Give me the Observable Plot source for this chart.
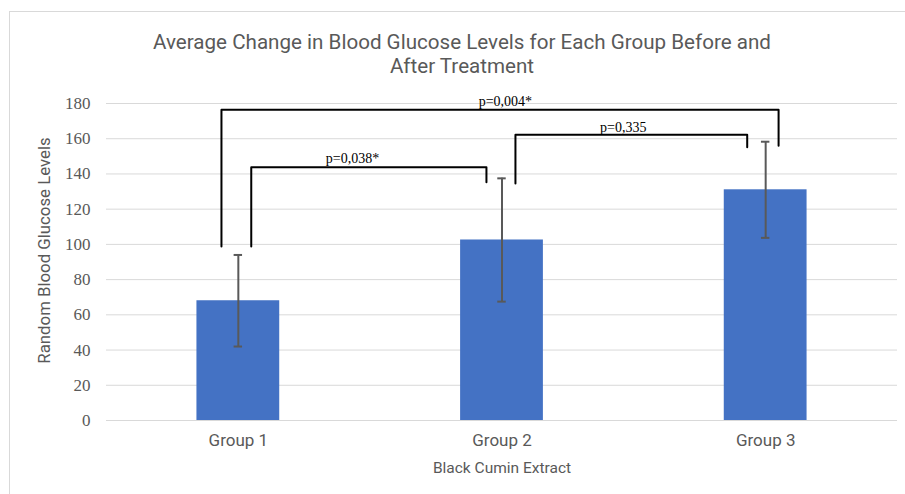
<!DOCTYPE html>
<html><head><meta charset="utf-8">
<script src="https://cdn.jsdelivr.net/npm/d3@7"></script>
<script src="https://cdn.jsdelivr.net/npm/@observablehq/plot@0.6"></script>
<style>
body{margin:0;background:#fff;width:905px;height:494px;overflow:hidden;}
#frame{position:absolute;left:9px;top:11px;width:895px;height:483px;border-left:1px solid #d9d9d9;border-top:1px solid #d9d9d9;}
#title{position:absolute;left:0;top:30px;width:924px;text-align:center;font-family:Roboto,sans-serif;font-size:20.6px;line-height:24px;color:#595959;}
#chart{position:absolute;left:0;top:85px;}
</style></head><body>
<div id="frame"></div>
<div id="title">Average Change in Blood Glucose Levels for Each Group Before and<br>After Treatment</div>
<div id="chart"></div>
<script>
// Data
const groups = ["Group 1", "Group 2", "Group 3"];
const groupPos = [1, 2, 3];
const means = [68, 102.5, 131];
const errors = [26, 35, 27.3];
const yTicks = [0, 20, 40, 60, 80, 100, 120, 140, 160, 180];

// Significance brackets (x in group units, y in glucose units)
const bracketLabels = ["p=0,004*", "p=0,038*", "p=0,335"];
const bracketLeftX = [0.936, 1.049, 2.051];
const bracketRightX = [3.049, 1.941, 2.93];
const bracketTopY = [176.5, 143.8, 162.2];
const bracketLeftBottomY = [98.8, 98.8, 134.6];
const bracketRightBottomY = [156, 135.3, 155.2];
const bracketLabelX = [2.013, 1.433, 2.46];
const bracketLabelY = [181.3, 148.8, 166.4];

const barHalf = 0.157;
const capHalf = 0.016;

const bars = groups.map((g, i) => ({g, x: groupPos[i], mean: means[i], err: errors[i]}));
const bracketPts = [];
bracketLabels.forEach((l, i) => {
  bracketPts.push({id: l, x: bracketLeftX[i], y: bracketLeftBottomY[i]});
  bracketPts.push({id: l, x: bracketLeftX[i], y: bracketTopY[i]});
  bracketPts.push({id: l, x: bracketRightX[i], y: bracketTopY[i]});
  bracketPts.push({id: l, x: bracketRightX[i], y: bracketRightBottomY[i]});
});
const bracketText = bracketLabels.map((l, i) => ({l, x: bracketLabelX[i], y: bracketLabelY[i]}));

const chart = Plot.plot({
  width: 905, height: 409,
  marginLeft: 106, marginRight: 8, marginTop: 18, marginBottom: 74,
  style: {fontFamily: "Roboto, sans-serif", fontSize: "15px", color: "#595959", background: "transparent", overflow: "visible"},
  x: {type: "linear", domain: [0.5, 3.5]},
  y: {domain: [0, 180]},
  marks: [
    Plot.gridY(yTicks, {stroke: "#d9d9d9", strokeOpacity: 1, strokeWidth: 1}),
    Plot.axisY(yTicks, {tickSize: 0, tickPadding: 16, fontFamily: "Liberation Serif, serif", fontSize: 17, fill: "#595959", label: null}),
    Plot.axisX(groupPos, {tickSize: 0, tickPadding: 13, tickFormat: i => groups[i - 1], fontSize: 17, fill: "#595959", label: null}),
    Plot.rectY(bars, {x1: d => d.x - barHalf, x2: d => d.x + barHalf, y1: 0, y2: "mean", fill: "#4472C4"}),
    Plot.ruleX(bars, {x: "x", y1: d => d.mean - d.err, y2: d => d.mean + d.err, stroke: "#595959", strokeWidth: 2}),
    Plot.ruleY(bars, {y: d => d.mean + d.err, x1: d => d.x - capHalf, x2: d => d.x + capHalf, stroke: "#595959", strokeWidth: 2}),
    Plot.ruleY(bars, {y: d => d.mean - d.err, x1: d => d.x - capHalf, x2: d => d.x + capHalf, stroke: "#595959", strokeWidth: 2}),
    Plot.line(bracketPts, {x: "x", y: "y", z: "id", stroke: "black", strokeWidth: 2}),
    Plot.text(bracketText, {x: "x", y: "y", text: "l", fontFamily: "Liberation Serif, serif", fontSize: 14, fill: "black", textAnchor: "middle", lineAnchor: "middle"}),
    Plot.text(["Black Cumin Extract"], {frameAnchor: "bottom", dy: 48, fontSize: 15.5, fill: "#595959", lineAnchor: "middle"}),
    Plot.text(["Random Blood Glucose Levels"], {frameAnchor: "left", rotate: -90, dx: -62, dy: -11.5, fontSize: 16.8, fill: "#595959", lineAnchor: "middle", textAnchor: "middle"})
  ]
});
document.getElementById("chart").appendChild(chart);
</script>
</body></html>
